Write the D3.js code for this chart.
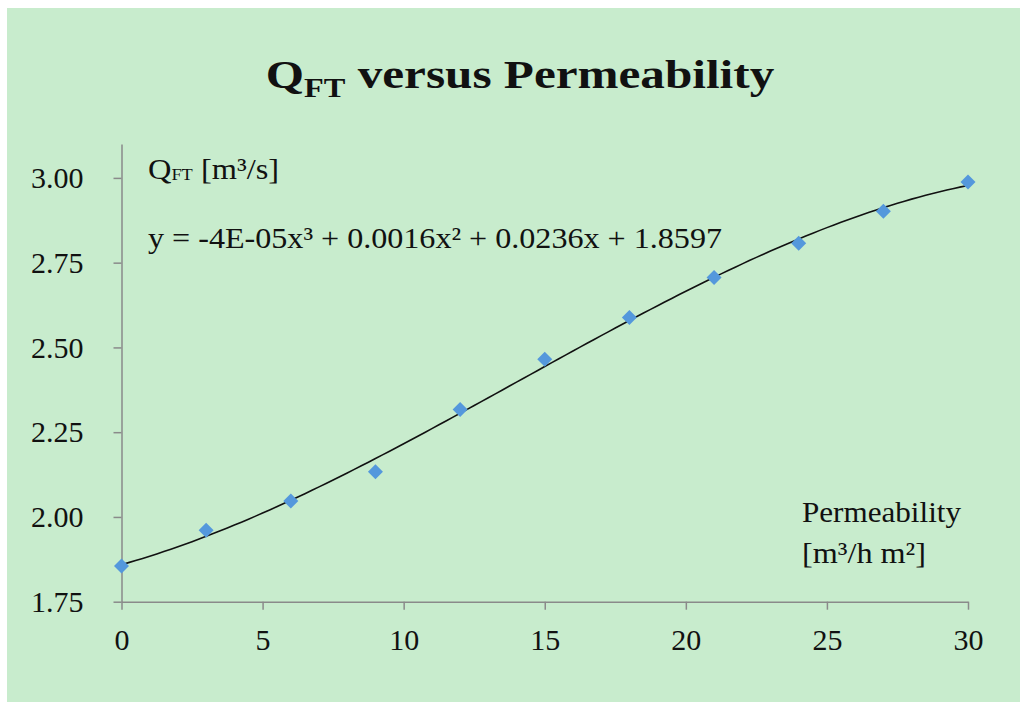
<!DOCTYPE html>
<html lang="en">
<head>
<meta charset="UTF-8">
<title>QFT versus Permeability</title>
<script src="https://cdnjs.cloudflare.com/ajax/libs/d3/7.8.5/d3.min.js"></script>
<style>
    * { margin: 0; padding: 0; box-sizing: border-box; }
    body { background: #fff; font-family: 'Liberation Serif', 'Times New Roman', serif; }
    svg text { fill: #111; }
    .axis path, .axis line { stroke: #8a8a8a; stroke-width: 1.5; }
    .axis text { font-family: 'Liberation Serif', 'Times New Roman', serif; font-size: 30px; fill: #111; }
</style>
</head>
<body>
<div id="chart"></div>
<script>
const permeability = [0, 3, 6, 9, 12, 15, 18, 21, 24, 27, 30];
const flowQFT = [1.855, 1.961, 2.047, 2.133, 2.317, 2.465, 2.588, 2.706, 2.807, 2.902, 2.988];

const xTicks = [0, 5, 10, 15, 20, 25, 30];
const yTicks = [1.75, 2.00, 2.25, 2.50, 2.75, 3.00];
const xDomain = [0, 30];
const yDomain = [1.75, 3.1];

const equationText = 'y = -4E-05x³ + 0.0016x² + 0.0236x + 1.8597';

const width = 1020, height = 702;
const margin = { left: 121.5, right: 52, top: 144, bottom: 100.3 };

const svg = d3.select('#chart').append('svg')
    .attr('width', width)
    .attr('height', height);

// chart area background
svg.append('rect')
    .attr('x', 7).attr('y', 8)
    .attr('width', width - 7).attr('height', height - 8)
    .attr('fill', '#c8eccd');

const x = d3.scaleLinear().domain(xDomain).range([margin.left, width - margin.right]);
const y = d3.scaleLinear().domain(yDomain).range([height - margin.bottom, margin.top]);

// axes
svg.append('g')
    .attr('class', 'axis')
    .attr('transform', `translate(0,${y(yDomain[0])})`)
    .call(d3.axisBottom(x).tickValues(xTicks).tickSize(8).tickSizeOuter(0).tickPadding(19));

svg.append('g')
    .attr('class', 'axis')
    .attr('transform', `translate(${x(xDomain[0])},0)`)
    .call(d3.axisLeft(y).tickValues(yTicks).tickFormat(d3.format('.2f')).tickSize(8).tickSizeOuter(0).tickPadding(30));

// cubic least-squares trendline (same as the spreadsheet trendline)
function polyFit(xs, ys, order) {
    const n = order + 1;
    const A = Array.from({ length: n }, () => new Array(n + 1).fill(0));
    xs.forEach((xv, k) => {
        for (let i = 0; i < n; i++) {
            for (let j = 0; j < n; j++) A[i][j] += Math.pow(xv, i + j);
            A[i][n] += ys[k] * Math.pow(xv, i);
        }
    });
    for (let c = 0; c < n; c++) {
        let p = c;
        for (let r = c + 1; r < n; r++) if (Math.abs(A[r][c]) > Math.abs(A[p][c])) p = r;
        [A[c], A[p]] = [A[p], A[c]];
        for (let r = 0; r < n; r++) {
            if (r === c) continue;
            const f = A[r][c] / A[c][c];
            for (let k = c; k <= n; k++) A[r][k] -= f * A[c][k];
        }
    }
    return A.map((row, i) => row[n] / row[i]);
}

const coef = polyFit(permeability, flowQFT, 3);
const trend = d3.range(0, 30.01, 0.25).map(v => [v, coef.reduce((s, c, i) => s + c * Math.pow(v, i), 0)]);

svg.append('path')
    .datum(trend)
    .attr('fill', 'none')
    .attr('stroke', '#111')
    .attr('stroke-width', 1.6)
    .attr('d', d3.line().x(d => x(d[0])).y(d => y(d[1])));

// diamond markers
svg.selectAll('.pt')
    .data(permeability.map((p, i) => [p, flowQFT[i]]))
    .enter()
    .append('path')
    .attr('class', 'pt')
    .attr('transform', d => `translate(${x(d[0])},${y(d[1])})`)
    .attr('d', 'M0,-7.5L7.5,0L0,7.5L-7.5,0Z')
    .attr('fill', '#5498dc');

// title (the original is drawn a bit wider than the font)
const title = svg.append('text')
    .attr('transform', 'translate(520,88) scale(1.2,1)')
    .attr('text-anchor', 'middle')
    .style('font-size', '41px')
    .style('font-weight', 'bold');
title.append('tspan').text('Q');
title.append('tspan').attr('dy', 9).style('font-size', '27px').text('FT');
title.append('tspan').attr('dy', -9).text(' versus Permeability');

// y-axis label
const yLab = svg.append('text')
    .attr('transform', 'translate(148,179) scale(1.08,1)')
    .style('font-size', '30px');
yLab.append('tspan').text('Q');
yLab.append('tspan').attr('dy', 1).style('font-size', '17px').text('FT');
yLab.append('tspan').attr('dy', -1).text(' [m³/s]');

// trendline equation
svg.append('text')
    .attr('x', 148).attr('y', 248)
    .attr('textLength', 574)
    .attr('lengthAdjust', 'spacingAndGlyphs')
    .style('font-size', '30px')
    .text(equationText);

// x-axis label
svg.append('text')
    .attr('x', 802).attr('y', 522)
    .attr('textLength', 159)
    .attr('lengthAdjust', 'spacingAndGlyphs')
    .style('font-size', '30px')
    .text('Permeability');
svg.append('text')
    .attr('x', 802).attr('y', 563)
    .attr('textLength', 124)
    .attr('lengthAdjust', 'spacingAndGlyphs')
    .style('font-size', '30px')
    .text('[m³/h m²]');
</script>
</body>
</html>
